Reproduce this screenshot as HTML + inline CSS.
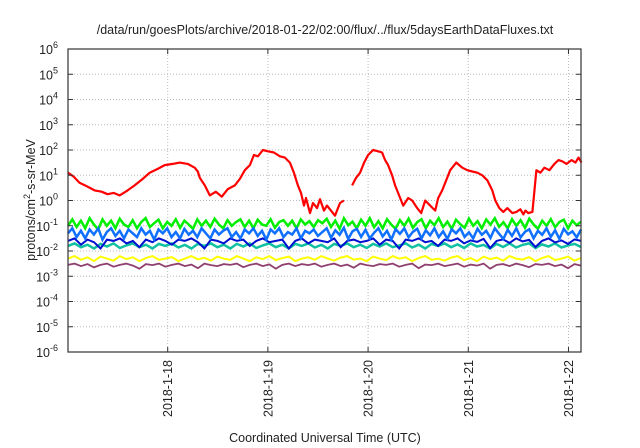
<!DOCTYPE html>
<html><head><meta charset="utf-8"><style>
body{margin:0;background:#fff}
svg{display:block;font-family:"Liberation Sans",sans-serif}
</style></head><body>
<svg id="c" width="640" height="448" xmlns="http://www.w3.org/2000/svg">
<text x="325" y="34" text-anchor="middle" font-size="12.5" fill="#222">/data/run/goesPlots/archive/2018-01-22/02:00/flux/../flux/5daysEarthDataFluxes.txt</text>
<text transform="translate(35,200) rotate(-90)" text-anchor="middle" font-size="12.5" fill="#222">protons/cm<tspan dy="-5" font-size="9">2</tspan><tspan dy="5">-s-sr-MeV</tspan></text>
<text x="325" y="442" text-anchor="middle" font-size="12.5" fill="#222">Coordinated Universal Time (UTC)</text>
<g id="grid"></g><g id="series"></g><g id="axes"></g>
</svg>
<script>
const xTickDays=[1,2,3,4,5];
const xTickLabels=["2018-1-18","2018-1-19","2018-1-20","2018-1-21","2018-1-22"];
const yTickExp=[-6,-5,-4,-3,-2,-1,0,1,2,3,4,5,6];
const redDays=[0.005,0.06,0.12,0.2,0.27,0.34,0.4,0.46,0.52,0.6,0.67,0.75,0.82,0.9,0.97,1.05,1.12,1.2,1.27,1.3,1.32,1.37,1.42,1.48,1.54,1.6,1.67,1.72,1.77,1.82,1.86,1.9,1.95,2.0,2.06,2.12,2.17,2.22,2.26,2.3,2.33,2.36,2.38,2.42,2.45,2.49,2.52,2.56,2.59,2.67,2.72,2.76,2.79,2.84,2.88,2.92,2.96,3.0,3.05,3.1,3.14,3.17,3.2,3.24,3.27,3.31,3.35,3.4,3.44,3.49,3.53,3.57,3.62,3.67,3.7,3.74,3.78,3.82,3.88,3.94,3.99,4.04,4.09,4.14,4.19,4.24,4.27,4.31,4.35,4.39,4.44,4.48,4.52,4.55,4.57,4.6,4.64,4.68,4.72,4.76,4.81,4.86,4.9,4.94,4.98,5.03,5.07,5.1,5.13];
const redLog=[1.1,0.95,0.7,0.55,0.4,0.35,0.25,0.3,0.2,0.4,0.6,0.85,1.1,1.25,1.4,1.45,1.5,1.45,1.3,1.15,0.9,0.6,0.2,0.35,0.15,0.45,0.6,0.85,1.2,1.4,1.8,1.75,2.0,1.95,1.9,1.75,1.7,1.5,1.1,0.6,0.3,-0.2,0.1,-0.5,-0.1,-0.3,0.05,-0.4,-0.2,-0.6,-0.1,0.0,null,0.6,0.9,1.1,1.5,1.8,2.0,1.95,1.9,1.6,1.4,1.0,0.6,0.2,-0.2,0.1,0.0,-0.3,-0.5,0.0,-0.2,-0.4,0.1,0.4,0.8,1.2,1.5,1.3,1.2,1.15,1.1,1.0,0.8,0.4,0.0,-0.3,-0.45,-0.3,-0.5,-0.45,-0.35,-0.55,-0.4,-0.5,-0.45,1.2,1.1,1.3,1.2,1.45,1.6,1.55,1.45,1.6,1.5,1.7,1.5,1.6,1.4];
const greenLog=[-1.0,-0.75,-1.05,-0.8,-1.1,-0.7,-0.95,-1.15,-0.75,-1.0,-0.8,-1.1,-0.72,-0.95,-1.05,-0.78,-1.1,-0.85,-0.7,-1.05,-0.9,-0.76,-1.1,-0.85,-1.0,-0.74,-1.08,-0.8,-0.95,-1.12,-0.75,-1.0,-0.8,-1.05,-0.72,-0.95,-1.1,-0.78,-1.0,-0.85,-0.75,-1.05,-0.8,-1.1,-0.76,-0.95,-1.0,-0.74,-1.08,-0.85,-0.78,-1.0,-0.8,-1.1,-0.75,-0.95,-0.82,-1.05,-0.78,-0.9,-0.72,-1.05,-0.8,-1.12,-0.7,-0.98,-0.84,-1.1,-0.76,-1.0,-0.7,-1.06,-0.82,-1.1,-0.74,-0.96,-1.12,-0.78,-1.0,-0.72,-1.08,-0.86,-0.74,-1.1,-0.8,-0.98,-0.7,-1.05,-0.84,-1.12,-0.76,-0.94,-1.08,-0.72,-1.0,-0.82,-1.1,-0.75,-0.96,-0.7,-1.04,-0.86,-1.1,-0.74,-1.0,-0.78,-1.08,-0.72,-0.95,-1.12,-0.8,-1.0,-0.74,-1.06,-0.85,-0.76,-1.1,-0.8,-0.98,-0.84];
const lblueLog=[-1.3,-1.1,-1.45,-1.2,-1.5,-1.15,-1.35,-1.1,-1.55,-1.25,-1.1,-1.4,-1.2,-1.5,-1.15,-1.3,-1.45,-1.1,-1.35,-1.2,-1.55,-1.15,-1.3,-1.1,-1.45,-1.25,-1.5,-1.12,-1.35,-1.2,-1.45,-1.1,-1.3,-1.5,-1.15,-1.35,-1.2,-1.1,-1.45,-1.25,-1.5,-1.15,-1.3,-1.1,-1.4,-1.2,-1.55,-1.15,-1.3,-1.1,-1.45,-1.25,-1.35,-1.1,-1.5,-1.2,-1.3,-1.15,-1.4,-1.25,-1.1,-1.48,-1.18,-1.36,-1.08,-1.52,-1.22,-1.12,-1.44,-1.16,-1.5,-1.28,-1.1,-1.42,-1.2,-1.55,-1.14,-1.32,-1.1,-1.46,-1.24,-1.12,-1.5,-1.18,-1.38,-1.1,-1.45,-1.22,-1.52,-1.14,-1.3,-1.1,-1.44,-1.26,-1.5,-1.12,-1.36,-1.2,-1.48,-1.1,-1.32,-1.52,-1.16,-1.4,-1.1,-1.46,-1.24,-1.14,-1.5,-1.2,-1.36,-1.1,-1.44,-1.18,-1.52,-1.12,-1.34,-1.22,-1.46,-1.15];
const dblueLog=[-1.6,-1.5,-1.75,-1.55,-1.65,-1.9,-1.55,-1.6,-1.5,-1.7,-1.6,-1.85,-1.55,-1.65,-1.5,-1.6,-1.75,-1.55,-1.6,-1.5,-1.65,-1.9,-1.55,-1.6,-1.7,-1.5,-1.6,-1.55,-1.8,-1.6,-1.5,-1.65,-1.6,-1.55,-1.9,-1.6,-1.5,-1.7,-1.55,-1.6,-1.65,-1.5,-1.85,-1.6,-1.55,-1.65,-1.6,-1.5,-1.75,-1.55,-1.6,-1.9,-1.55,-1.6,-1.5,-1.65,-1.6,-1.8,-1.55,-1.6,-1.5,-1.7,-1.58,-1.64,-1.52,-1.88,-1.6,-1.54,-1.68,-1.5,-1.62,-1.56,-1.84,-1.6,-1.5,-1.66,-1.58,-1.72,-1.54,-1.6];
const tealLog=[-1.8,-1.7,-1.85,-1.75,-1.9,-1.72,-1.82,-1.7,-1.88,-1.78,-1.7,-1.85,-1.75,-1.9,-1.72,-1.8,-1.7,-1.86,-1.76,-1.9,-1.72,-1.8,-1.7,-1.85,-1.75,-1.9,-1.72,-1.82,-1.7,-1.88,-1.78,-1.7,-1.85,-1.75,-1.9,-1.72,-1.8,-1.7,-1.86,-1.76,-1.9,-1.72,-1.8,-1.7,-1.85,-1.75,-1.88,-1.72,-1.82,-1.7,-1.85,-1.78,-1.7,-1.86,-1.75,-1.9,-1.72,-1.8,-1.7,-1.85,-1.74,-1.88,-1.7,-1.82,-1.76,-1.9,-1.72,-1.84,-1.7,-1.86,-1.76,-1.7,-1.88,-1.74,-1.82,-1.7,-1.86,-1.78,-1.72,-1.84];
const yellowLog=[-2.3,-2.2,-2.35,-2.25,-2.4,-2.22,-2.3,-2.38,-2.2,-2.32,-2.25,-2.4,-2.28,-2.2,-2.35,-2.3,-2.24,-2.4,-2.3,-2.2,-2.33,-2.27,-2.38,-2.22,-2.3,-2.35,-2.2,-2.3,-2.4,-2.25,-2.32,-2.2,-2.36,-2.28,-2.22,-2.4,-2.3,-2.25,-2.35,-2.2,-2.3,-2.38,-2.26,-2.2,-2.34,-2.3,-2.4,-2.22,-2.3,-2.36,-2.2,-2.3,-2.25,-2.4,-2.28,-2.2,-2.35,-2.3,-2.38,-2.26,-2.2,-2.36,-2.28,-2.4,-2.22,-2.32,-2.26,-2.38,-2.2,-2.3,-2.34,-2.24,-2.4,-2.28,-2.2,-2.36,-2.3,-2.22,-2.38,-2.28];
const purpleLog=[-2.55,-2.5,-2.6,-2.52,-2.65,-2.55,-2.5,-2.62,-2.55,-2.5,-2.58,-2.7,-2.52,-2.56,-2.5,-2.62,-2.55,-2.5,-2.6,-2.54,-2.68,-2.5,-2.56,-2.6,-2.52,-2.55,-2.5,-2.64,-2.55,-2.5,-2.6,-2.53,-2.7,-2.55,-2.5,-2.6,-2.52,-2.56,-2.5,-2.62,-2.55,-2.5,-2.6,-2.54,-2.66,-2.5,-2.56,-2.6,-2.52,-2.55,-2.5,-2.62,-2.55,-2.5,-2.68,-2.54,-2.56,-2.5,-2.6,-2.55,-2.5,-2.62,-2.54,-2.58,-2.5,-2.7,-2.55,-2.52,-2.6,-2.5,-2.56,-2.64,-2.52,-2.55,-2.5,-2.6,-2.54,-2.68,-2.52,-2.58];
const X0=68,X1=581,Y0=49,Y1=352,D0=0.005,D1=5.125;
const NS="http://www.w3.org/2000/svg";
function xs(d){return X0+(d-D0)/(D1-D0)*(X1-X0);}
function ys(l){return Y1-(l+6)/12*(Y1-Y0);}
function mk(t,a,p){const e=document.createElementNS(NS,t);for(const k in a)e.setAttribute(k,a[k]);p.appendChild(e);return e;}
const grid=document.getElementById('grid'),ax=document.getElementById('axes'),ser=document.getElementById('series');
yTickExp.forEach(e=>{const y=ys(e);
 if(e>-6&&e<6){const g=mk('line',{x1:X0,x2:X1,y1:y,y2:y,stroke:'#bbb','stroke-dasharray':'1,2'},grid);
 }
 const t1=mk('line',{x1:X0,x2:X0+5,y1:y,y2:y,stroke:'#333'},ax);
 const t2=mk('line',{x1:X1-5,x2:X1,y1:y,y2:y,stroke:'#333'},ax);
 const tx=mk('text',{x:58,y:y+5,'text-anchor':'end','font-size':'12.5',fill:'#222'},ax);
 
 tx.textContent='10';const s=mk('tspan',{dy:'-6','font-size':'9'},tx);s.textContent=String(e);
});
xTickDays.forEach((d,i)=>{const x=xs(d);
 const g=mk('line',{x1:x,x2:x,y1:Y0,y2:Y1,stroke:'#bbb','stroke-dasharray':'1,2'},grid);
 const t1=mk('line',{x1:x,x2:x,y1:Y1,y2:Y1-5,stroke:'#333'},ax);
 const t2=mk('line',{x1:x,x2:x,y1:Y0,y2:Y0+5,stroke:'#333'},ax);
 const tx=mk('text',{transform:`translate(${x+4.5},360) rotate(-90)`,'text-anchor':'end','font-size':'12.5',fill:'#222'},ax);
 tx.textContent=xTickLabels[i];
});
const fr=mk('rect',{x:X0,y:Y0,width:X1-X0,height:Y1-Y0,fill:'none',stroke:'#333','stroke-width':1.2},ax);

function band(vals,color,name,w){
 let d='';vals.forEach((v,i)=>{const day=D0+i/(vals.length-1)*(D1-D0);d+=(i?'L':'M')+xs(day).toFixed(1)+','+ys(v).toFixed(1);});
 const p=mk('path',{d:d,fill:'none',stroke:color,'stroke-width':w,'stroke-linejoin':'miter'},ser);
 
}
band(greenLog,'#00ee00','series-green',2.5);
band(tealLog,'#10c0a0','series-teal',2.5);
band(dblueLog,'#0010d0','series-dark-blue',2);
band(lblueLog,'#1070ff','series-light-blue',2.5);
band(yellowLog,'#ffff00','series-yellow',2);
band(purpleLog,'#904070','series-purple',1.8);
let rd='',pen=false;
redDays.forEach((d,i)=>{const v=redLog[i];if(v===null){pen=false;return;}rd+=(pen?'L':'M')+xs(d).toFixed(1)+','+ys(v).toFixed(1);pen=true;});
const rp=mk('path',{d:rd,fill:'none',stroke:'#ff0000','stroke-width':2.2,'stroke-linejoin':'round'},ser);

</script>
</body></html>
